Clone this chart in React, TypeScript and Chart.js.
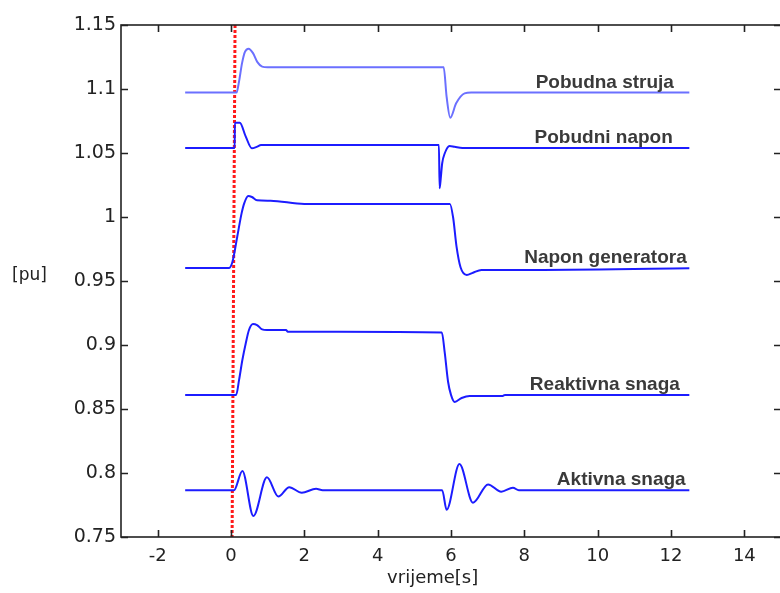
import { useEffect, useRef } from 'react';
import { Chart, registerables } from 'chart.js';
Chart.register(...registerables);

const xTicks = [-2, 0, 2, 4, 6, 8, 10, 12, 14];
const xTickLabels = ['-2', '0', '2', '4', '6', '8', '10', '12', '14'];
const yTicks = [0.75, 0.8, 0.85, 0.9, 0.95, 1, 1.05, 1.1, 1.15];
const yTickLabels = ['0.75', '0.8', '0.85', '0.9', '0.95', '1', '1.05', '1.1', '1.15'];

const seriesNames = ['Pobudna struja', 'Pobudni napon', 'Napon generatora', 'Reaktivna snaga', 'Aktivna snaga'];
const labelEndX = [12.08, 12.05, 12.43, 12.24, 12.4];

const strujaT = [-1.25, 0.15, 0.22, 0.3, 0.38, 0.48, 0.6, 0.72, 0.85, 1.0, 5.8, 5.88, 5.98, 6.14, 6.37, 6.55, 12.5];
const strujaV = [1.0972, 1.0972, 1.106, 1.12, 1.129, 1.1315, 1.128, 1.121, 1.1175, 1.117, 1.117, 1.094, 1.0776, 1.0888, 1.0966, 1.0972, 1.0972];

const naponT = [-1.25, 0.1, 0.105, 0.24, 0.4, 0.57, 0.7, 0.82, 5.67, 5.69, 5.72, 5.76, 5.83, 5.96, 6.1, 6.31, 12.5];
const naponV = [1.0539, 1.0539, 1.0737, 1.0737, 1.063, 1.0537, 1.0548, 1.0562, 1.0562, 1.0224, 1.03, 1.042, 1.0498, 1.0555, 1.0548, 1.0539, 1.0539];

const generatorT = [-1.25, -0.05, 0.04, 0.17, 0.29, 0.36, 0.47, 0.57, 0.71, 1.08, 2.0, 5.97, 6.06, 6.15, 6.26, 6.43, 6.6, 6.83, 7.96, 12.5];
const generatorV = [0.9602, 0.9602, 0.965, 0.9846, 1.003, 1.0107, 1.0164, 1.0156, 1.013, 1.0127, 1.0102, 1.0102, 0.9992, 0.977, 0.9607, 0.9547, 0.9565, 0.9586, 0.9586, 0.9599];

const reaktivnaT = [-1.25, 0.14, 0.22, 0.31, 0.4, 0.49, 0.6, 0.71, 0.85, 0.98, 1.5, 1.55, 2.93, 5.75, 5.83, 5.92, 6.0, 6.1, 6.29, 6.51, 7.41, 7.47, 12.5];
const reaktivnaV = [0.861, 0.861, 0.8727, 0.8883, 0.901, 0.9117, 0.9164, 0.9156, 0.9122, 0.9117, 0.9117, 0.9104, 0.9104, 0.9098, 0.8938, 0.8713, 0.861, 0.8555, 0.8586, 0.8602, 0.8602, 0.861, 0.861];

const aktivnaT = [-1.25, 0.08, 0.31, 0.61, 0.98, 1.29, 1.59, 1.93, 2.32, 2.5, 5.76, 5.88, 6.23, 6.6, 7.01, 7.37, 7.69, 7.85, 12.5];
const aktivnaV = [0.7865, 0.7865, 0.8016, 0.7664, 0.7966, 0.7816, 0.7889, 0.7846, 0.7877, 0.7865, 0.7865, 0.7713, 0.807, 0.7768, 0.7911, 0.7854, 0.7885, 0.7865, 0.7865];

const markerT = [0.11, 0.03];
const markerV = [1.15, 0.75];

const seriesT = [strujaT, naponT, generatorT, reaktivnaT, aktivnaT];
const seriesV = [strujaV, naponV, generatorV, reaktivnaV, aktivnaV];
const seriesColors = ['#6b70ff', '#1c1cff', '#1c1cff', '#1c1cff', '#1c1cff'];

const toPoints = (t: number[], v: number[]) => t.map((x, i) => ({ x, y: v[i] }));

const framePlugin = {
  id: 'frame',
  afterDraw(chart: any) {
    const ctx = chart.ctx;
    const { left, right, top, bottom } = chart.chartArea;
    const xs = chart.scales.x;
    const ys = chart.scales.y;
    ctx.save();
    ctx.strokeStyle = '#222';
    ctx.lineWidth = 1.6;
    ctx.strokeRect(left, top, right - left, bottom - top);
    ctx.beginPath();
    xTicks.forEach((v) => {
      const p = Math.round(xs.getPixelForValue(v)) + 0.5;
      ctx.moveTo(p, bottom); ctx.lineTo(p, bottom - 7);
      ctx.moveTo(p, top); ctx.lineTo(p, top + 7);
    });
    yTicks.forEach((v) => {
      const p = Math.round(ys.getPixelForValue(v)) + 0.5;
      ctx.moveTo(left, p); ctx.lineTo(left + 7, p);
      ctx.moveTo(right, p); ctx.lineTo(right - 7, p);
    });
    ctx.stroke();

    ctx.fillStyle = '#3a3a3a';
    ctx.font = 'bold 19px "Liberation Sans", Arial, sans-serif';
    ctx.textAlign = 'right';
    ctx.textBaseline = 'alphabetic';
    seriesNames.forEach((name, i) => {
      const vals = seriesV[i];
      const px = xs.getPixelForValue(labelEndX[i]);
      const py = ys.getPixelForValue(vals[vals.length - 1]) - 5;
      ctx.fillText(name, px, py);
    });

    ctx.fillStyle = '#222';
    ctx.font = '18px "DejaVu Sans", sans-serif';
    ctx.textAlign = 'center';
    ctx.textBaseline = 'middle';
    ctx.fillText('vrijeme[s]', xs.getPixelForValue(5.5), 578);
    ctx.font = '17px "DejaVu Sans", sans-serif';
    ctx.textAlign = 'left';
    ctx.fillText('[pu]', 12, 276);
    ctx.restore();
  },
};

export default function App() {
  const ref = useRef<HTMLCanvasElement>(null);
  useEffect(() => {
    document.body.style.margin = '0';
    document.body.style.overflow = 'hidden';
    const canvas = ref.current!;
    const datasets: any[] = seriesT.map((t, i) => ({
      label: seriesNames[i],
      data: toPoints(t, seriesV[i]),
      borderColor: seriesColors[i],
      borderWidth: 2,
      pointRadius: 0,
      cubicInterpolationMode: 'monotone',
      fill: false,
    }));
    datasets.push({
      label: 't0',
      data: toPoints(markerT, markerV),
      borderColor: '#ff1a1a',
      borderWidth: 3,
      borderDash: [3, 2],
      pointRadius: 0,
      fill: false,
    });
    const chart = new Chart(canvas, {
      type: 'line',
      data: { datasets },
      options: {
        animation: false,
        responsive: false,
        devicePixelRatio: 1,
        layout: { padding: { left: 0, top: 25, right: 9, bottom: 0 } },
        plugins: { legend: { display: false }, tooltip: { enabled: false } },
        scales: {
          x: {
            type: 'linear',
            min: -3,
            max: 15,
            afterBuildTicks: (s: any) => { s.ticks = xTicks.map((v) => ({ value: v })); },
            afterFit: (s: any) => { s.height = 56; },
            ticks: {
              callback: (_v: any, i: number) => xTickLabels[i],
              font: { family: '"DejaVu Sans", sans-serif', size: 18 },
              color: '#222',
              padding: 9,
              maxRotation: 0,
              autoSkip: false,
            },
            grid: { display: false, drawTicks: false },
            border: { display: false },
          },
          y: {
            type: 'linear',
            min: 0.75,
            max: 1.15,
            afterBuildTicks: (s: any) => { s.ticks = yTicks.map((v) => ({ value: v })); },
            afterFit: (s: any) => { s.width = 121; },
            ticks: {
              callback: (_v: any, i: number) => yTickLabels[i],
              font: { family: '"DejaVu Sans", sans-serif', size: 19 },
              color: '#222',
              padding: 5,
              autoSkip: false,
            },
            grid: { display: false, drawTicks: false },
            border: { display: false },
          },
        },
      },
      plugins: [framePlugin],
    });
    return () => chart.destroy();
  }, []);
  return (
    <div style={{ width: 780, height: 593, overflow: 'hidden', background: '#fff' }}>
      <canvas ref={ref} width={790} height={593} style={{ display: 'block' }} />
    </div>
  );
}
